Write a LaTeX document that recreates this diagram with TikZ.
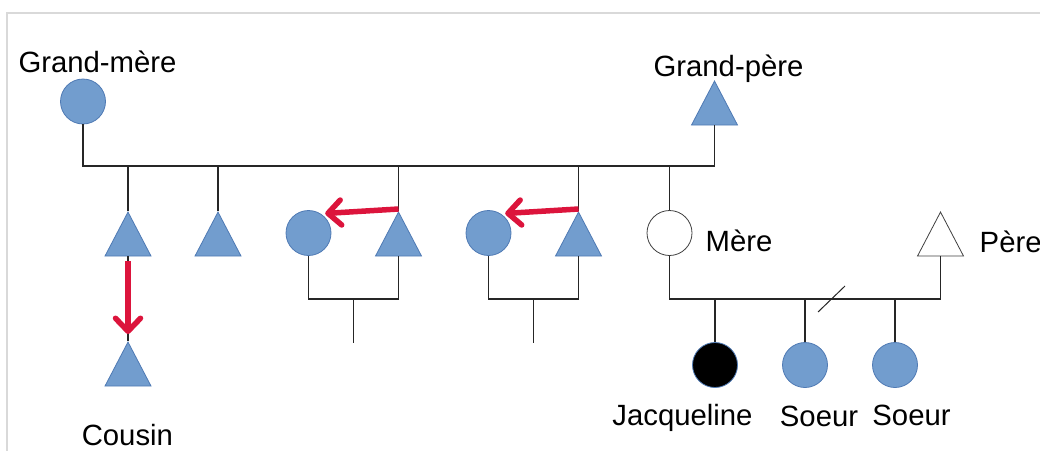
\documentclass[tikz,border=0pt]{standalone}
\usepackage{fontspec}
\setmainfont{Liberation Sans}
\usepackage{xcolor}
\usepackage{tikz}
\usetikzlibrary{arrows.meta}
\usetikzlibrary{shapes.geometric, calc}

\definecolor{bluefill}{RGB}{114,157,206}
\definecolor{blueline}{RGB}{79,122,180}
\definecolor{kinred}{RGB}{220,20,60}

\tikzset{
  female/.style={circle, minimum size=45pt, inner sep=0pt, draw=blueline, fill=bluefill, line width=0.8pt},
  male/.style={isosceles triangle, isosceles triangle stretches, shape border rotate=90,
    minimum width=46pt, minimum height=44pt, inner sep=0pt, draw=blueline, fill=bluefill, line width=0.8pt},
  tie/.style={draw=black!85, line width=1.3pt},
  lab/.style={inner sep=0pt, anchor=base, font=\fontsize{29.3}{34}\selectfont},
  kin/.style={draw=kinred, line width=5.5pt, -{Straight Barb[length=13pt,width=25pt,round]}}
}

\begin{document}
\begin{tikzpicture}[x=1pt, y=-1pt]
\useasboundingbox (0,0) rectangle (1040,450);
\draw[black!15, line width=1.5pt] (7,13) rectangle (1060,470);

% Grand-parents
\node[female] (gm) at (83,101.5) {};
\node[male, anchor=apex] (gp) at (714.5,80) {};
\node[lab] (tgm) at (97.5,72) {Grand-mère};
\node[lab] (tgp) at (728.5,76) {Grand-père};
\coordinate (sib) at (400,166);
\draw[tie] (gm.south) -- (gm.south |- sib) -- (gp.lower side |- sib) -- (gp.lower side);

% their children
\node[male, anchor=apex] (u1) at (128,211) {};
\node[male, anchor=apex] (u2) at (218,211) {};
\node[female] (a1) at (308.5,233) {};
\node[male, anchor=apex] (u3) at (398.5,211) {};
\node[female] (a2) at (488.5,233) {};
\node[male, anchor=apex] (u4) at (578.5,211) {};
\node[female, fill=white, draw=black!75] (mere) at (669.5,233) {};
\node[male, fill=white, draw=black!75, anchor=apex] (pere) at (940.5,211) {};
\node[lab, anchor=base west] (tmere) at (705.5,251) {Mère};
\node[lab, anchor=base west] (tpere) at (979.5,252) {Père};
\foreach \p in {u1,u2,u3,u4}
  \draw[tie] (\p.apex) -- (\p.apex |- sib);
\draw[tie] (mere.north) -- (mere.north |- sib);

% Cousin
\node[male, anchor=apex] (cou) at (128,341) {};
\node[lab] (tcou) at (127.4,445) {Cousin};
\draw[tie] (u1.lower side) -- (cou.apex);
\draw[kin] ([yshift=-5pt]u1.lower side) -- ([yshift=7pt]cou.apex);

% couples
\coordinate (c1) at (353.5,299);
\coordinate (c2) at (533.5,299);
\coordinate (c1e) at (353.5,343);
\coordinate (c2e) at (533.5,343);
\draw[tie] (a1.south) |- (c1) -| (u3.lower side);
\draw[tie] (a2.south) |- (c2) -| (u4.lower side);
\draw[tie] (c1) -- (c1e);
\draw[tie] (c2) -- (c2e);
\draw[kin] ([yshift=2pt]u3.apex) -- ([xshift=2pt,yshift=2pt]a1.50);
\draw[kin] ([yshift=2pt]u4.apex) -- ([xshift=2pt,yshift=2pt]a2.50);

% Jacqueline and sisters
\coordinate (fam) at (805,299);
\draw[tie] (mere.south) |- (fam) -| (pere.lower side);
\node[female, fill=black] (jac) at (715,365) {};
\node[female] (s1) at (805,365) {};
\node[female] (s2) at (895,365) {};
\foreach \k in {jac,s1,s2}
  \draw[tie] (\k.north) -- (\k.north |- fam);
\draw[tie, line width=1pt] (818,312) -- (845,286);
\node[lab] (tjac) at (682.5,425) {Jacqueline};
\node[lab] (ts1) at (819,426.7) {Soeur};
\node[lab] (ts2) at (911.5,425) {Soeur};
\end{tikzpicture}
\end{document}
